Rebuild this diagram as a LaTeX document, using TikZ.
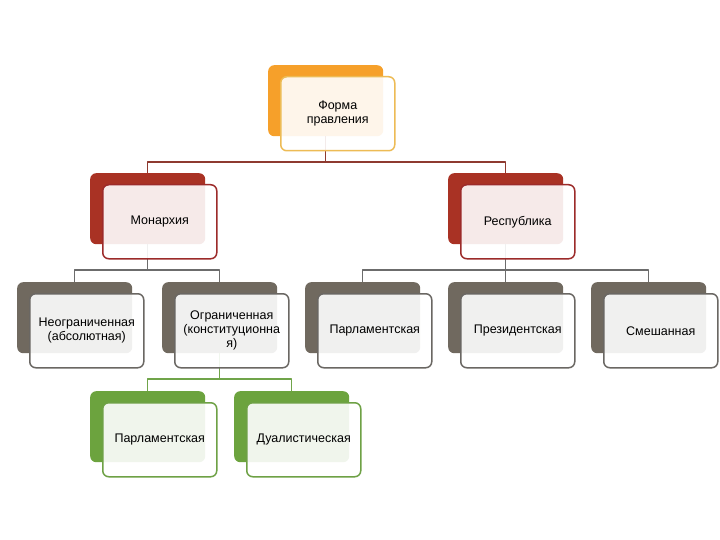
\documentclass[tikz,border=0pt]{standalone}
\usepackage{fontspec}
\setmainfont{Liberation Sans}
\usetikzlibrary{positioning,calc}

\definecolor{formback}{HTML}{F6A02A}
\definecolor{formline}{HTML}{EDBB55}
\definecolor{redback}{HTML}{A93224}
\definecolor{redline}{HTML}{9C2B2A}
\definecolor{grayback}{HTML}{70695F}
\definecolor{grayline}{HTML}{6A6763}
\definecolor{greenback}{HTML}{6CA33E}
\definecolor{greenline}{HTML}{6EA145}
\definecolor{linkred}{HTML}{8E3A30}
\definecolor{linkgray}{HTML}{6C6C6C}
\definecolor{linkgreen}{HTML}{70A44A}

\begin{document}
\begin{tikzpicture}[x=1pt, y=-1pt, line join=round,
  back/.style={rounded corners=6pt, minimum width=115pt, minimum height=71pt, inner sep=0pt, anchor=north west},
  front/.style={rounded corners=6pt, minimum width=114pt, minimum height=74pt, inner sep=2pt, anchor=north west,
    fill=white, fill opacity=0.9, text opacity=1, line width=1.5pt, align=center,
    font=\fontsize{12.5}{14}\selectfont},
  link1/.style={linkred, line width=1.5pt},
  link2/.style={linkgray, line width=1.5pt},
  link3/.style={linkgreen, line width=1.5pt}]
\useasboundingbox[fill=white] (0,0) rectangle (720,540);
% back boxes
\node[back, fill=formback]  (bForm) at (268,65) {};
\node[back, fill=redback]   (bMon)  at (90,173) {};
\node[back, fill=redback]   (bRep)  at (448,173) {};
\node[back, fill=grayback]  (bAbs)  at (17,282) {};
\node[back, fill=grayback]  (bLim)  at (162,282) {};
\node[back, fill=grayback]  (bParl) at (305,282) {};
\node[back, fill=grayback]  (bPres) at (448,282) {};
\node[back, fill=grayback]  (bMix)  at (591,282) {};
\node[back, fill=greenback] (bMPar) at (90,391) {};
\node[back, fill=greenback] (bDual) at (234,391) {};
% junctions
\coordinate (j1) at (bForm.south |- 0,162);
\coordinate (j2) at (bMon.south |- 0,270);
\coordinate (j3) at (bRep.south |- 0,270);
\coordinate (j4) at (bLim.south |- 0,379);
\draw[link1] (bForm.south) -- (j1) (bMon.north) |- (j1) -| (bRep.north);
\draw[link2] (bMon.south) -- (j2) (bAbs.north) |- (j2) -| (bLim.north);
\draw[link2] (bRep.south) -- (j3) (bParl.north) |- (j3) -| (bMix.north);
\draw[link2] (j3) -- (bPres.north);
\draw[link3] (bLim.south) -- (j4) (bMPar.north) |- (j4) -| (bDual.north);
% front boxes
\node[front, draw=formline]  (fForm) at ($(bForm.north west)+(12,11)$) {Форма\\правления};
\node[front, draw=redline]   (fMon)  at ($(bMon.north west)+(12,11)$) {Монархия};
\node[front, draw=redline]   (fRep)  at ($(bRep.north west)+(12,11)$) {Республика};
\node[front, draw=grayline]  (fAbs)  at ($(bAbs.north west)+(12,11)$) {Неограниченная\\(абсолютная)};
\node[front, draw=grayline]  (fLim)  at ($(bLim.north west)+(12,11)$) {Ограниченная\\(конституционна\\я)};
\node[front, draw=grayline]  (fParl) at ($(bParl.north west)+(12,11)$) {Парламентская};
\node[front, draw=grayline]  (fPres) at ($(bPres.north west)+(12,11)$) {Президентская};
\node[front, draw=grayline]  (fMix)  at ($(bMix.north west)+(12,11)$) {Смешанная};
\node[front, draw=greenline] (fMPar) at ($(bMPar.north west)+(12,11)$) {Парламентская};
\node[front, draw=greenline] (fDual) at ($(bDual.north west)+(12,11)$) {Дуалистическая};
\end{tikzpicture}
\end{document}
